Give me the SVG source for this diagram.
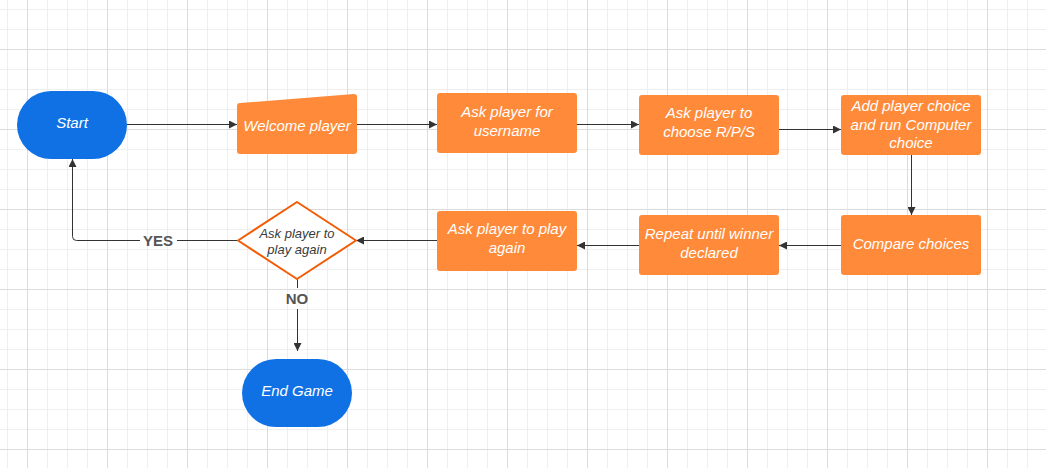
<svg xmlns="http://www.w3.org/2000/svg" width="1046" height="468" viewBox="0 0 1046 468">
<defs>
<pattern id="grid" x="27" y="49" width="80" height="80" patternUnits="userSpaceOnUse">
<path d="M0 20.5H80M0 40.5H80M0 60.5H80M20.5 0V80M40.5 0V80M60.5 0V80" stroke="#efefef" stroke-width="1" fill="none"/>
<path d="M0 0.5H80M0.5 0V80" stroke="#dcdcdc" stroke-width="1" fill="none"/>
</pattern>
<marker id="arr" viewBox="0 0 10 10" refX="10" refY="5" markerWidth="9" markerHeight="8" markerUnits="userSpaceOnUse" orient="auto">
<path d="M0 0L10 5L0 10Z" fill="#333"/>
</marker>
<style>
.term{fill:#1071e5}
.proc{fill:#ff8b3a}
.t{font-family:"Liberation Sans",Arial,sans-serif;font-style:italic;font-size:15px;fill:#ffffff;text-anchor:middle}
.dt{font-family:"Liberation Sans",Arial,sans-serif;font-style:italic;font-size:13px;fill:#3a3a3a;text-anchor:middle}
.lbl{font-family:"Liberation Sans",Arial,sans-serif;font-weight:bold;font-size:15px;fill:#555;text-anchor:middle}
.c{fill:none;stroke:#333;stroke-width:1}
.ca{fill:none;stroke:#333;stroke-width:1;marker-end:url(#arr)}
</style>
</defs>
<rect width="1046" height="468" fill="#ffffff"/>
<rect width="1046" height="468" fill="url(#grid)"/>

<g id="connectors">
<path class="ca" d="M127 124.5H237"/>
<path class="ca" d="M357 124.5H437"/>
<path class="ca" d="M577 124.5H639"/>
<path class="ca" d="M779 129.5H841"/>
<path class="ca" d="M911.5 155V215"/>
<path class="ca" d="M841 245.5H779"/>
<path class="ca" d="M639 245.5H577"/>
<path class="ca" d="M437 240.5H356"/>
<path class="c" d="M238 240.5H177"/>
<path class="ca" d="M140 240.5H76.5Q72.5 240.5 72.5 236.5V159"/>
<path class="c" d="M297.5 279V288"/>
<path class="ca" d="M297.5 309V351"/>
<text class="lbl" x="158" y="245.5">YES</text>
<text class="lbl" x="297" y="303.5">NO</text>
</g>

<g id="start">
<rect class="term" x="17" y="91" width="110" height="68" rx="34" ry="34"/>
<text class="t" x="72" y="128">Start</text>
</g>
<g id="welcome">
<path class="proc" d="M240 103L354 94Q357 94 357 97V151Q357 154 354 154H240Q237 154 237 151V106Q237 103 240 103Z"/>
<text class="t" x="297" y="131">Welcome player</text>
</g>
<g id="username">
<rect class="proc" x="437" y="93" width="140" height="60" rx="3"/>
<text class="t" x="507" y="117">Ask player for</text>
<text class="t" x="507" y="135.5">username</text>
</g>
<g id="choose">
<rect class="proc" x="639" y="95" width="140" height="60" rx="3"/>
<text class="t" x="709" y="118">Ask player to</text>
<text class="t" x="709" y="137">choose R/P/S</text>
</g>
<g id="computer">
<rect class="proc" x="841" y="95" width="140" height="60" rx="3"/>
<text class="t" x="911" y="111">Add player choice</text>
<text class="t" x="911" y="129.5">and run Computer</text>
<text class="t" x="911" y="148">choice</text>
</g>
<g id="compare">
<rect class="proc" x="841" y="215" width="140" height="60" rx="3"/>
<text class="t" x="911" y="249">Compare choices</text>
</g>
<g id="repeat">
<rect class="proc" x="639" y="215" width="140" height="60" rx="3"/>
<text class="t" x="709" y="239">Repeat until winner</text>
<text class="t" x="709" y="257.5">declared</text>
</g>
<g id="askagain">
<rect class="proc" x="437" y="211" width="140" height="60" rx="3"/>
<text class="t" x="507" y="234">Ask player to play</text>
<text class="t" x="507" y="253">again</text>
</g>
<g id="decision">
<path d="M297 202L356 240.5L297 279L238 240.5Z" fill="#ffffff" stroke="#f25c05" stroke-width="2" stroke-linejoin="round"/>
<text class="dt" x="297" y="237.5">Ask player to</text>
<text class="dt" x="297" y="253.5">play again</text>
</g>
<g id="end">
<rect class="term" x="242" y="359" width="110" height="68" rx="34" ry="34"/>
<text class="t" x="297" y="396">End Game</text>
</g>
</svg>
